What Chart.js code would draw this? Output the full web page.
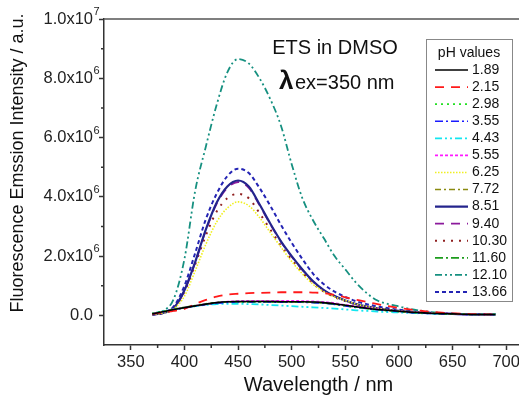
<!DOCTYPE html>
<html>
<head>
<meta charset="utf-8">
<script src="https://cdn.jsdelivr.net/npm/chart.js@4.4.1/dist/chart.umd.min.js"></script>
<style>
  html, body { margin: 0; padding: 0; overflow: hidden; background: #fff; }
  canvas { display: block; }
</style>
</head>
<body>
<canvas id="phChart" width="540" height="402"></canvas>
<script>
// Wavelength (nm) of each sample point
const wavelengths = [370, 380, 390, 400, 410, 420, 430, 440, 450, 460, 470, 480, 490, 500, 510, 520,
  530, 540, 550, 560, 570, 580, 590, 600, 610, 620, 630, 640, 650, 660, 670, 680, 690];

// Emission intensity, in units of 10^6 a.u., one list per pH
const ph189 = [0.05, 0.12, 0.20, 0.26, 0.32, 0.38, 0.43, 0.46, 0.47, 0.47, 0.47, 0.47, 0.46, 0.46, 0.46, 0.45,
  0.43, 0.39, 0.34, 0.29, 0.24, 0.20, 0.17, 0.14, 0.11, 0.09, 0.07, 0.06, 0.05, 0.04, 0.03, 0.03, 0.03];
const ph215 = [0.05, 0.10, 0.15, 0.22, 0.38, 0.52, 0.63, 0.70, 0.73, 0.75, 0.76, 0.77, 0.78, 0.78, 0.78, 0.77,
  0.75, 0.69, 0.61, 0.53, 0.45, 0.38, 0.31, 0.25, 0.20, 0.16, 0.12, 0.09, 0.07, 0.05, 0.04, 0.03, 0.03];
const ph298 = [0.06, 0.13, 0.21, 0.27, 0.33, 0.39, 0.43, 0.45, 0.46, 0.46, 0.46, 0.46, 0.45, 0.45, 0.45, 0.44,
  0.42, 0.38, 0.33, 0.28, 0.23, 0.19, 0.16, 0.13, 0.10, 0.08, 0.07, 0.05, 0.04, 0.04, 0.03, 0.03, 0.03];
const ph355 = [0.05, 0.12, 0.19, 0.25, 0.31, 0.37, 0.41, 0.44, 0.45, 0.45, 0.45, 0.45, 0.44, 0.44, 0.44, 0.43,
  0.41, 0.37, 0.32, 0.27, 0.23, 0.19, 0.16, 0.13, 0.10, 0.08, 0.06, 0.05, 0.04, 0.03, 0.03, 0.03, 0.02];
const ph443 = [0.06, 0.13, 0.20, 0.26, 0.31, 0.35, 0.38, 0.39, 0.39, 0.38, 0.37, 0.35, 0.33, 0.31, 0.29, 0.27,
  0.25, 0.23, 0.20, 0.17, 0.15, 0.13, 0.11, 0.10, 0.08, 0.07, 0.06, 0.05, 0.04, 0.04, 0.03, 0.03, 0.03];
const ph555 = [0.05, 0.12, 0.20, 0.26, 0.32, 0.38, 0.43, 0.46, 0.48, 0.49, 0.49, 0.49, 0.49, 0.49, 0.48, 0.47,
  0.45, 0.41, 0.35, 0.30, 0.25, 0.21, 0.17, 0.14, 0.11, 0.09, 0.07, 0.06, 0.05, 0.04, 0.03, 0.03, 0.03];
const ph625 = [0.03, 0.08, 0.22, 0.65, 1.50, 2.40, 3.15, 3.62, 3.83, 3.70, 3.30, 2.80, 2.30, 1.82, 1.40, 1.05,
  0.80, 0.62, 0.50, 0.38, 0.30, 0.24, 0.19, 0.15, 0.12, 0.10, 0.08, 0.06, 0.05, 0.04, 0.03, 0.03, 0.03];
const ph772 = [0.05, 0.12, 0.19, 0.25, 0.31, 0.37, 0.42, 0.45, 0.46, 0.46, 0.46, 0.46, 0.45, 0.45, 0.45, 0.44,
  0.42, 0.38, 0.33, 0.28, 0.24, 0.20, 0.16, 0.13, 0.11, 0.09, 0.07, 0.05, 0.04, 0.04, 0.03, 0.03, 0.03];
const ph851 = [0.03, 0.08, 0.25, 0.85, 1.80, 2.90, 3.80, 4.35, 4.55, 4.35, 3.75, 3.10, 2.50, 2.00, 1.55, 1.15,
  0.85, 0.65, 0.50, 0.38, 0.30, 0.24, 0.19, 0.15, 0.12, 0.10, 0.08, 0.06, 0.05, 0.04, 0.03, 0.03, 0.03];
const ph940 = [0.03, 0.08, 0.24, 0.83, 1.78, 2.87, 3.76, 4.30, 4.50, 4.30, 3.72, 3.08, 2.48, 1.98, 1.53, 1.13,
  0.84, 0.64, 0.49, 0.38, 0.30, 0.24, 0.19, 0.15, 0.12, 0.10, 0.08, 0.06, 0.05, 0.04, 0.03, 0.03, 0.03];
const ph1030 = [0.03, 0.08, 0.24, 0.80, 1.72, 2.70, 3.50, 3.95, 4.10, 3.95, 3.45, 2.90, 2.35, 1.88, 1.45, 1.08,
  0.80, 0.62, 0.48, 0.37, 0.29, 0.23, 0.18, 0.15, 0.12, 0.09, 0.07, 0.06, 0.05, 0.04, 0.03, 0.03, 0.03];
const ph1160 = [0.06, 0.13, 0.20, 0.26, 0.32, 0.38, 0.42, 0.45, 0.46, 0.46, 0.46, 0.46, 0.46, 0.45, 0.45, 0.44,
  0.42, 0.38, 0.33, 0.28, 0.24, 0.20, 0.16, 0.13, 0.11, 0.09, 0.07, 0.05, 0.04, 0.04, 0.03, 0.03, 0.03];
const ph1210 = [0.05, 0.15, 0.55, 1.90, 4.20, 5.70, 7.10, 8.20, 8.65, 8.50, 8.00, 7.30, 6.40, 5.10, 3.95, 3.20,
  2.60, 2.00, 1.55, 1.10, 0.75, 0.50, 0.38, 0.30, 0.22, 0.16, 0.11, 0.08, 0.06, 0.04, 0.03, 0.03, 0.03];
const ph1366 = [0.02, 0.08, 0.30, 1.00, 2.10, 3.25, 4.10, 4.70, 4.95, 4.80, 4.30, 3.70, 3.05, 2.45, 1.90, 1.40,
  1.05, 0.80, 0.62, 0.48, 0.38, 0.30, 0.24, 0.19, 0.15, 0.12, 0.09, 0.07, 0.05, 0.04, 0.03, 0.03, 0.02];

const phLabels = ['1.89', '2.15', '2.98', '3.55', '4.43', '5.55', '6.25', '7.72',
  '8.51', '9.40', '10.30', '11.60', '12.10', '13.66'];
const phSeries = [ph189, ph215, ph298, ph355, ph443, ph555, ph625, ph772,
  ph851, ph940, ph1030, ph1160, ph1210, ph1366];

const xTicks = [350, 400, 450, 500, 550, 600, 650, 700];
const xMinorTicks = [375, 425, 475, 525, 575, 625, 675];
const yTicks = [0, 2, 4, 6, 8, 10];
const yMinorTicks = [1, 3, 5, 7, 9];

// line look for each pH, same order as phLabels
const lineStyles = [
  { color: '#000000', dash: [], width: 1.6 },
  { color: '#ff1a1a', dash: [9, 7], width: 1.8 },
  { color: '#22e022', dash: [2, 4], width: 1.8 },
  { color: '#1a1aff', dash: [8, 3, 2, 3], width: 1.6 },
  { color: '#14e6f0', dash: [7, 3, 2, 3, 2, 3], width: 1.8 },
  { color: '#ff1aff', dash: [3, 2], width: 1.8 },
  { color: '#f0f020', dash: [1.5, 1.5], width: 1.6 },
  { color: '#8a8a10', dash: [6, 3, 2, 3], width: 1.6 },
  { color: '#24248c', dash: [], width: 2.2 },
  { color: '#8c1a9c', dash: [9, 7], width: 1.8 },
  { color: '#902020', dash: [2, 6], width: 2.0 },
  { color: '#1c9c1c', dash: [8, 3, 2, 3], width: 1.8 },
  { color: '#169080', dash: [7, 3, 2, 3, 2, 3], width: 1.8 },
  { color: '#2424b4', dash: [4, 3], width: 2.0 }
];

const FONT = "'Liberation Sans', Arial, sans-serif";

const datasets = phLabels.map((label, i) => ({
  label: label,
  data: phSeries[i].map((v, k) => ({ x: wavelengths[k], y: v })),
  borderColor: lineStyles[i].color,
  borderDash: lineStyles[i].dash,
  borderWidth: lineStyles[i].width,
  pointRadius: 0,
  fill: false,
  tension: 0.4,
  cubicInterpolationMode: 'monotone'
}));

// frame, minor ticks, y tick labels with exponents, y title, legend box and notes
const decorPlugin = {
  id: 'decor',
  afterDraw(chart) {
    const ctx = chart.ctx;
    const area = chart.chartArea;
    const xs = chart.scales.x;
    const ys = chart.scales.y;
    ctx.save();

    // top and right edges of the frame
    ctx.strokeStyle = '#555';
    ctx.lineWidth = 1.5;
    ctx.beginPath();
    ctx.moveTo(area.left, area.top);
    ctx.lineTo(area.right, area.top);
    ctx.lineTo(area.right, area.bottom);
    ctx.stroke();

    // minor ticks
    ctx.strokeStyle = '#333';
    ctx.lineWidth = 1.5;
    ctx.beginPath();
    xMinorTicks.forEach(v => {
      const px = xs.getPixelForValue(v);
      ctx.moveTo(px, area.bottom);
      ctx.lineTo(px, area.bottom + 3);
    });
    yMinorTicks.forEach(v => {
      const py = ys.getPixelForValue(v);
      ctx.moveTo(area.left, py);
      ctx.lineTo(area.left - 3, py);
    });
    ctx.stroke();

    // y tick labels, e.g. 8.0x10^6
    ctx.fillStyle = '#222';
    ctx.textBaseline = 'middle';
    yTicks.forEach(v => {
      const py = ys.getPixelForValue(v);
      let base, exp;
      if (v === 0) { base = '0.0'; exp = ''; }
      else if (v >= 10) { base = (v / 10).toFixed(1) + 'x10'; exp = '7'; }
      else { base = v.toFixed(1) + 'x10'; exp = '6'; }
      ctx.font = '16.5px ' + FONT;
      ctx.textAlign = 'right';
      ctx.fillText(base, 93, py);
      if (exp) {
        ctx.font = '11px ' + FONT;
        ctx.textAlign = 'left';
        ctx.fillText(exp, 93.5, py - 7);
      }
    });

    // y axis title
    ctx.save();
    ctx.translate(18, 163);
    ctx.rotate(-Math.PI / 2);
    ctx.font = '18px ' + FONT;
    ctx.textAlign = 'center';
    ctx.textBaseline = 'middle';
    ctx.fillStyle = '#111';
    ctx.fillText('Fluorescence Emssion Intensity / a.u.', 0, 0);
    ctx.restore();

    // notes
    ctx.fillStyle = '#111';
    ctx.textBaseline = 'alphabetic';
    ctx.textAlign = 'center';
    ctx.font = '20px ' + FONT;
    ctx.fillText('ETS in DMSO', 335, 54);
    ctx.textAlign = 'left';
    ctx.font = 'bold 26px ' + FONT;
    ctx.fillText('λ', 279, 89);
    ctx.font = '20px ' + FONT;
    ctx.fillText('ex=350 nm', 295, 89);

    // legend box
    ctx.strokeStyle = '#888';
    ctx.lineWidth = 1;
    ctx.fillStyle = '#fff';
    ctx.fillRect(426.5, 39.5, 86, 262);
    ctx.strokeRect(426.5, 39.5, 86, 262);
    ctx.fillStyle = '#111';
    ctx.font = '14px ' + FONT;
    ctx.textAlign = 'center';
    ctx.textBaseline = 'middle';
    ctx.fillText('pH values', 469, 53);
    ctx.textAlign = 'left';
    chart.data.datasets.forEach((ds, i) => {
      const y = 70 + i * 17.08;
      ctx.strokeStyle = ds.borderColor;
      ctx.lineWidth = ds.borderWidth;
      ctx.setLineDash(ds.borderDash || []);
      ctx.beginPath();
      ctx.moveTo(435, y);
      ctx.lineTo(468, y);
      ctx.stroke();
      ctx.setLineDash([]);
      ctx.fillStyle = '#111';
      ctx.fillText(ds.label, 472, y);
    });

    ctx.restore();
  }
};

const ctx = document.getElementById('phChart').getContext('2d');
new Chart(ctx, {
  type: 'line',
  data: { datasets: datasets },
  plugins: [decorPlugin],
  options: {
    responsive: false,
    animation: false,
    layout: { padding: { top: 19, right: 7, left: 0, bottom: 0 } },
    plugins: {
      legend: { display: false },
      tooltip: { enabled: false }
    },
    scales: {
      x: {
        type: 'linear',
        min: 325,
        max: 725,
        afterBuildTicks: scale => { scale.ticks = xTicks.map(v => ({ value: v })); },
        afterFit: scale => { scale.height = 57; },
        grid: { drawOnChartArea: false, drawTicks: true, tickLength: 5, tickColor: '#333', tickWidth: 1.5 },
        border: { display: true, color: '#333', width: 1.5 },
        ticks: { font: { size: 16.5, family: FONT }, color: '#222', padding: 3, maxRotation: 0 },
        title: {
          display: true,
          text: 'Wavelength / nm',
          font: { size: 20, family: FONT },
          color: '#111',
          padding: { top: 0, bottom: 5 }
        }
      },
      y: {
        type: 'linear',
        min: -1,
        max: 10,
        afterBuildTicks: scale => { scale.ticks = yTicks.map(v => ({ value: v })); },
        afterFit: scale => { scale.width = 104; },
        grid: { drawOnChartArea: false, drawTicks: true, tickLength: 5, tickColor: '#333', tickWidth: 1.5 },
        border: { display: true, color: '#333', width: 1.5 },
        ticks: { display: false }
      }
    }
  }
});
</script>
</body>
</html>
